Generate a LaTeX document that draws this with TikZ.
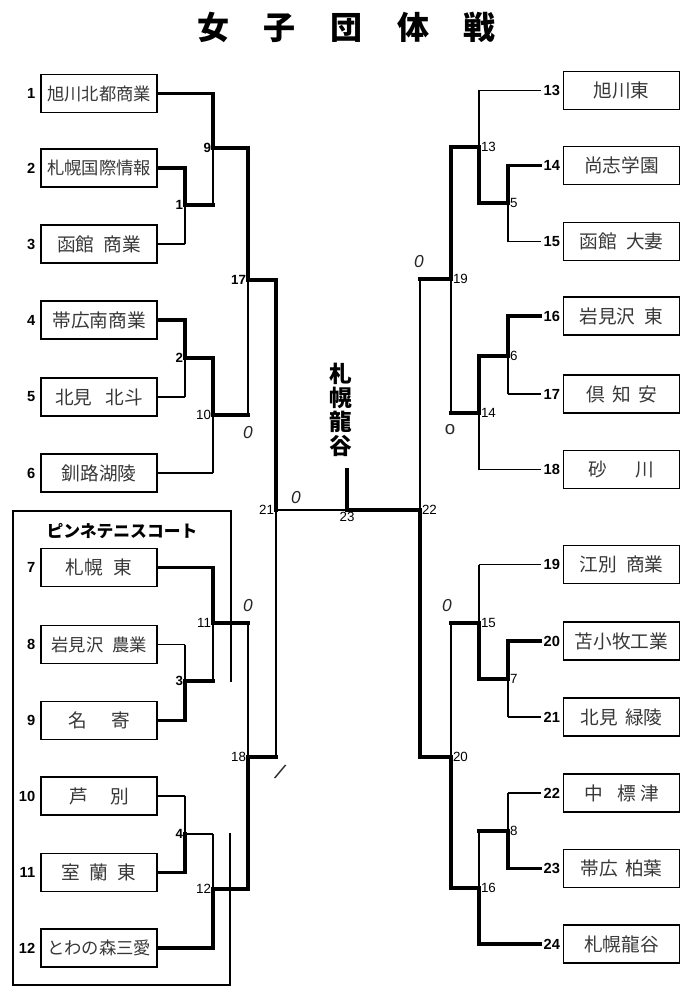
\documentclass[tikz,border=0pt]{standalone}
\usepackage{fontspec}
\setmainfont{Liberation Sans}
\newfontfamily\cjk{Noto Sans CJK JP}
\newcommand\lnk[4]{\draw[#3] (#1) -- (#1 -| #2); \draw[#4] (#1 -| #2) -- (#2);}
\begin{document}
\begin{tikzpicture}[x=0.75pt,y=-0.75pt,
  teambox/.style={draw, line width=0.9pt, minimum width=87pt, minimum height=28.5pt, inner sep=0pt,
    font=\cjk\fontsize{14}{14}\selectfont, text=black!78},
  longname/.style={font=\cjk\fontsize{13}{13}\selectfont},
  numlbl/.style={font=\bfseries\fontsize{11}{11}\selectfont, inner sep=2pt},
  mlbl/.style={font=\fontsize{10}{10}\selectfont, inner sep=1.3pt},
  bmlbl/.style={mlbl, font=\bfseries\fontsize{10}{10}\selectfont},
  win/.style={line width=2.4pt, line cap=rect},
  lose/.style={line width=0.8pt},
  score/.style={font=\itshape\fontsize{13}{13}\selectfont, text=black!85, inner sep=0pt},
  groupbox/.style={line width=1.5pt, line cap=rect}]
\useasboundingbox[fill=white] (0,0) rectangle (694,1002);

% title
\node[font=\cjk\bfseries\fontsize{24}{24}\selectfont] (title) at (346.5,27.5)
  {女\hspace{26pt}子\hspace{26pt}団\hspace{26pt}体\hspace{26pt}戦};

% group box
\draw[groupbox] (231,681) -- (231,511) -- (13,511) -- (13,985) -- (230,985) -- (230,834);
\node[font=\cjk\bfseries\fontsize{12.6}{12.6}\selectfont] (court) at (122,531) {ピンネテニスコート};

% left teams
\node[teambox, longname] (t1) at (99,93.5) {旭川北都商業};
\node[teambox, longname] (t2) at (99,168) {札幌国際情報};
\node[teambox] (t3) at (99,244) {函館\hspace{0.5em}商業};
\node[teambox] (t4) at (99,320) {帯広南商業};
\node[teambox] (t5) at (99,397) {北見\hspace{0.7em}北斗};
\node[teambox] (t6) at (99,473) {釧路湖陵};
\node[teambox] (t7) at (99,567.5) {札幌\hspace{0.6em}東};
\node[teambox, longname] (t8) at (99,644.5) {岩見沢\hspace{0.5em}農業};
\node[teambox] (t9) at (99,720.5) {名\hspace{1.3em}寄};
\node[teambox] (t10) at (99,796) {芦\hspace{1.2em}別};
\node[teambox] (t11) at (99,872.5) {室\hspace{0.5em}蘭\hspace{0.5em}東};
\node[teambox, longname] (t12) at (99,948) {とわの森三愛};

% right teams
\node[teambox] (t13) at (621.5,90.5) {旭川東};
\node[teambox] (t14) at (621.5,165.5) {尚志学園};
\node[teambox] (t15) at (621.5,241.5) {函館\hspace{0.5em}大妻};
\node[teambox] (t16) at (621.5,316) {岩見沢\hspace{0.5em}東};
\node[teambox] (t17) at (621.5,394) {倶\hspace{0.4em}知\hspace{0.4em}安};
\node[teambox] (t18) at (621.5,469.5) {砂\hspace{1.5em}川};
\node[teambox] (t19) at (621.5,564.5) {江別\hspace{0.5em}商業};
\node[teambox] (t20) at (621.5,641) {苫小牧工業};
\node[teambox] (t21) at (621.5,717) {北見\hspace{0.4em}緑陵};
\node[teambox] (t22) at (621.5,793) {中\hspace{0.8em}標\hspace{0.2em}津};
\node[teambox] (t23) at (621.5,868.5) {帯広\hspace{0.4em}柏葉};
\node[teambox] (t24) at (621.5,944) {札幌龍谷};

% team numbers
\foreach \i in {1,...,12}{
  \node[numlbl, anchor=east, xshift=-1.7pt] (n\i) at (t\i.west) {\i};
}
\foreach \i in {13,...,24}{
  \node[numlbl, anchor=east] (n\i) at (t\i.west) {\i};
}

% junctions
\coordinate (m1) at (185,205);
\coordinate (m2) at (185,358);
\coordinate (m3) at (185,681);
\coordinate (m4) at (185,834);
\coordinate (m9) at (213,148);
\coordinate (m10) at (213,415);
\coordinate (m11) at (213,623);
\coordinate (m12) at (213,889);
\coordinate (m17) at (248,280);
\coordinate (m18) at (248,757);
\coordinate (m21) at (276,510);
\coordinate (m23) at (347,510);
\coordinate (champ) at (347,470);
\coordinate (m22) at (420,510);
\coordinate (m19) at (451,279);
\coordinate (m20) at (451,757);
\coordinate (m13) at (479,147);
\coordinate (m14) at (479,413);
\coordinate (m15) at (479,623);
\coordinate (m16) at (479,888);
\coordinate (m5) at (508,203);
\coordinate (m6) at (508,356);
\coordinate (m7) at (508,679);
\coordinate (m8) at (508,831);

% left bracket
\lnk{t1.east}{m9}{win}{win}
\lnk{m1}{m9}{win}{lose}
\lnk{t2.east}{m1}{win}{win}
\lnk{t3.east}{m1}{lose}{lose}
\lnk{t4.east}{m2}{win}{win}
\lnk{t5.east}{m2}{lose}{lose}
\lnk{m2}{m10}{win}{win}
\lnk{t6.east}{m10}{lose}{lose}
\lnk{m9}{m17}{win}{win}
\lnk{m10}{m17}{win}{lose}
\lnk{m17}{m21}{win}{win}
\lnk{t7.east}{m11}{win}{win}
\lnk{m3}{m11}{win}{lose}
\lnk{t8.east}{m3}{lose}{lose}
\lnk{t9.east}{m3}{win}{win}
\lnk{t10.east}{m4}{lose}{lose}
\lnk{t11.east}{m4}{win}{win}
\lnk{m4}{m12}{lose}{lose}
\lnk{t12.east}{m12}{win}{win}
\lnk{m11}{m18}{win}{lose}
\lnk{m12}{m18}{win}{win}
\lnk{m18}{m21}{win}{lose}

% final
\draw[lose] (m21) -- (m23);
\draw[win] (m22) -- (m23);
\draw[win] (m23) -- (champ);

% right bracket
\lnk{n13.west}{m13}{lose}{lose}
\lnk{m5}{m13}{win}{win}
\lnk{n14.west}{m5}{win}{win}
\lnk{n15.west}{m5}{lose}{lose}
\lnk{m13}{m19}{win}{win}
\lnk{n16.west}{m6}{win}{win}
\lnk{n17.west}{m6}{lose}{lose}
\lnk{m6}{m14}{win}{win}
\lnk{n18.west}{m14}{lose}{lose}
\lnk{m14}{m19}{win}{lose}
\lnk{m19}{m22}{win}{lose}
\lnk{n19.west}{m15}{lose}{lose}
\lnk{m7}{m15}{win}{win}
\lnk{n20.west}{m7}{win}{win}
\lnk{n21.west}{m7}{lose}{lose}
\lnk{m15}{m20}{win}{lose}
\lnk{n22.west}{m8}{lose}{lose}
\lnk{n23.west}{m8}{win}{win}
\lnk{m8}{m16}{win}{lose}
\lnk{n24.west}{m16}{win}{win}
\lnk{m16}{m20}{win}{win}
\lnk{m20}{m22}{win}{win}

% match labels
\foreach \m in {1,2,3,4,9,17}{
  \node[bmlbl, anchor=east] (l\m) at (m\m) {\m};
}
\foreach \m in {10,11,12,18,21}{
  \node[mlbl, anchor=east] (l\m) at (m\m) {\m};
}
\foreach \m in {5,6,7,8,13,14,15,16,19,20,22}{
  \node[mlbl, anchor=west] (l\m) at (m\m) {\m};
}
\node[mlbl, anchor=north] (l23) at (m23) {23};

% champion
\node[font=\cjk\bfseries\fontsize{17}{18}\selectfont, align=center, inner sep=0pt] (winner) at (341,410)
  {札\\幌\\龍\\谷};

% scores
\node[score] (s1) at (248,433) {0};
\node[score] (s2) at (296,498) {0};
\node[score] (s3) at (248,606) {0};
\node[score, font=\itshape\fontsize{16}{16}\selectfont, rotate=-15] (s4) at (280,772) {/};
\node[score, font=\fontsize{14}{14}\selectfont] (s5) at (450,430) {o};
\node[score] (s6) at (419,262) {0};
\node[score] (s7) at (447,606) {0};
\end{tikzpicture}
\end{document}
